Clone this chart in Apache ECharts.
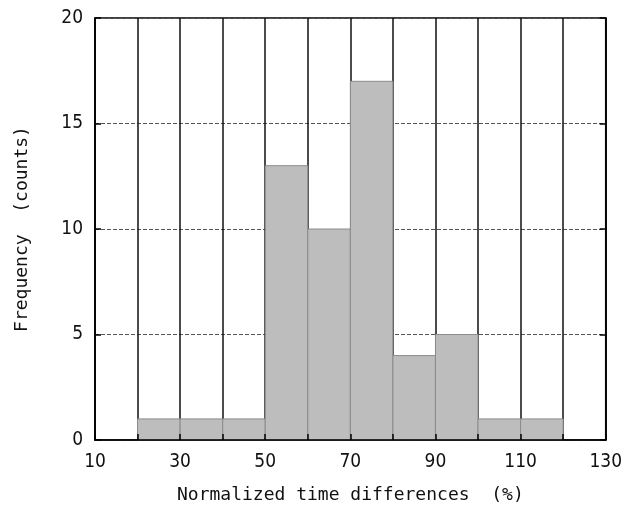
<!DOCTYPE html>
<html>
<head>
<meta charset="utf-8">
<script src="https://cdn.jsdelivr.net/npm/echarts@6/dist/echarts.min.js"></script>
<style>
  html, body { margin: 0; padding: 0; background: #fff; }
  #chart { width: 625px; height: 512px; }
</style>
</head>
<body>
<div id="chart"></div>
<script>
// histogram bins (left edge, width 10) and their counts
const binStarts = [20, 30, 40, 50, 60, 70, 80, 90, 100, 110]
const counts = [1, 1, 1, 13, 10, 17, 4, 5, 1, 1]
const binWidth = 10

const xTicks = [10, 30, 50, 70, 90, 110, 130]
const yTicks = [0, 5, 10, 15, 20]

const labelFont = "'Liberation Sans Narrow', 'DejaVu Sans Condensed', sans-serif"
const titleFont = "'DejaVu Sans Mono', monospace"

const chart = echarts.init(document.getElementById('chart'))

const bars = binStarts.map((start, i) => [start, counts[i]])

const option = {
  animation: false,
  backgroundColor: '#fff',
  grid: {
    left: 95, right: 17, top: 18, bottom: 72,
    show: true, borderColor: '#000', borderWidth: 1.5
  },
  xAxis: [
    {
      type: 'value', min: 10, max: 130, interval: 10,
      name: 'Normalized time differences  (%)',
      nameLocation: 'middle', nameGap: 46,
      nameTextStyle: { fontFamily: titleFont, fontSize: 18, color: '#111' },
      axisLine: { show: false },
      axisTick: { show: false },
      axisLabel: {
        margin: 13,
        fontFamily: labelFont, fontSize: 19, color: '#111',
        formatter: (v) => (xTicks.includes(v) ? String(v) : '')
      },
      splitLine: { show: true, lineStyle: { color: '#111', width: 1.5, type: 'solid' } }
    },
    {
      // tick marks drawn over the bars
      type: 'value', min: 10, max: 130, interval: 10, position: 'bottom', z: 10,
      axisLine: { show: true, lineStyle: { color: '#000', width: 1.5 } },
      axisTick: { show: true, inside: true, length: 6, lineStyle: { color: '#000', width: 1.5 } },
      axisLabel: { show: false },
      splitLine: { show: false }
    }
  ],
  yAxis: [
    {
      type: 'value', min: 0, max: 20, interval: 5,
      name: 'Frequency  (counts)',
      nameLocation: 'middle', nameGap: 64, nameRotate: 90,
      nameTextStyle: { fontFamily: titleFont, fontSize: 18, color: '#111' },
      axisLine: { show: true, lineStyle: { color: '#000', width: 1.5 } },
      axisTick: { show: true, inside: true, length: 6, lineStyle: { color: '#000', width: 1.5 } },
      axisLabel: {
        margin: 12,
        fontFamily: labelFont, fontSize: 19, color: '#111',
        formatter: (v) => (yTicks.includes(v) ? String(v) : '')
      },
      splitLine: { show: true, lineStyle: { color: '#555', width: 1, type: [4, 2] } }
    },
    {
      type: 'value', min: 0, max: 20, interval: 5, position: 'right', z: 10,
      axisLine: { show: true, lineStyle: { color: '#000', width: 1.5 } },
      axisTick: { show: true, inside: true, length: 6, lineStyle: { color: '#000', width: 1.5 } },
      axisLabel: { show: false },
      splitLine: { show: false }
    }
  ],
  series: [
    {
      type: 'custom',
      xAxisIndex: 0,
      yAxisIndex: 0,
      data: bars,
      renderItem: (params, api) => {
        const x0 = api.value(0)
        const c = api.value(1)
        const topLeft = api.coord([x0, c])
        const bottomRight = api.coord([x0 + binWidth, 0])
        return {
          type: 'rect',
          shape: {
            x: topLeft[0],
            y: topLeft[1],
            width: bottomRight[0] - topLeft[0],
            height: bottomRight[1] - topLeft[1]
          },
          style: { fill: '#bdbdbd', stroke: '#8c8c8c', lineWidth: 1 }
        }
      }
    }
  ]
}

chart.setOption(option)
</script>
</body>
</html>
